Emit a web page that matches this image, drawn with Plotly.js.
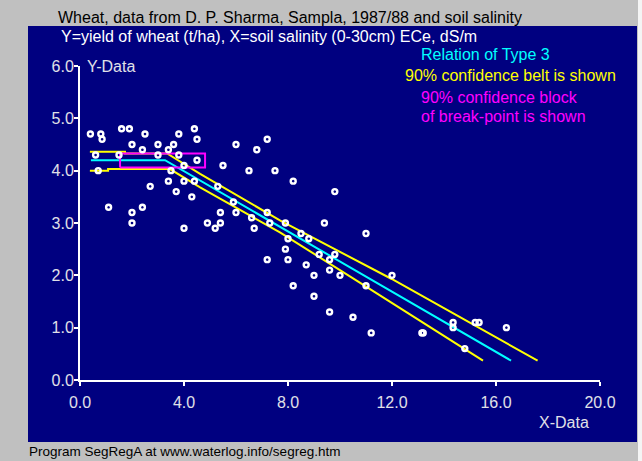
<!DOCTYPE html>
<html><head><meta charset="utf-8">
<script src="https://cdn.plot.ly/plotly-3.0.1.min.js"></script>
<style>html,body{margin:0;padding:0;background:#c0c0c0;}#chart{width:642px;height:461px;}</style>
</head><body><div id="chart"></div>
<script>
// Observed data: soil salinity ECe (dS/m) vs wheat yield (t/ha)
const salinityX = [0.4,0.8,0.85,1.6,1.9,2.5,3.8,4.4,4.5,2.0,3.0,3.6,2.4,3.4,0.6,1.5,3.0,3.8,4.5,4.0,0.7,3.5,3.4,4.0,4.4,2.7,3.7,4.3,1.1,2.0,2.4,2.0,4.0,4.9,5.2,
  6.0,7.2,6.8,5.5,6.5,7.5,8.2,9.8,5.3,5.9,5.4,6.0,7.2,5.4,6.6,7.3,7.9,9.4,6.7,8.5,8.8,8.0,7.9,7.2,8.0,8.7,9.2,9.8,9.6,9.6,10.0,9.0,8.2,9.0,9.6,
  11.0,12.0,10.5,11.2,11.0,13.2,13.15,14.35,14.35,15.2,15.35,14.8,16.4];
const yieldY = [4.7,4.7,4.6,4.8,4.8,4.7,4.7,4.8,4.6,4.5,4.5,4.5,4.4,4.4,4.3,4.3,4.3,4.3,4.2,4.1,4.0,4.0,3.8,3.8,3.8,3.7,3.6,3.5,3.3,3.2,3.3,3.0,2.9,3.0,2.9,
  4.5,4.6,4.4,4.1,4.0,4.0,3.8,3.6,3.7,3.4,3.2,3.2,3.2,3.0,3.1,3.0,3.0,3.0,2.9,2.8,2.7,2.7,2.5,2.3,2.3,2.2,2.4,2.4,2.3,2.1,2.0,2.0,1.8,1.6,1.3,
  2.8,2.0,1.2,0.9,1.8,0.9,0.9,1.1,1.0,1.1,1.1,0.6,1.0];
// Segmented regression (type 3) and 90% confidence belt
const fitX = [0.42, 3.27, 16.58];
const fitY = [4.2, 4.2, 0.37];
const upperX = [0.38, 1.73, 1.73, 3.35, 4.62, 7.69, 11.99, 15.38, 17.6];
const upperY = [4.36, 4.36, 4.33, 4.33, 3.94, 3.05, 1.93, 0.98, 0.37];
const lowerX = [0.38, 1.08, 1.08, 3.46, 4.62, 7.69, 10.64, 15.38, 15.5];
const lowerY = [4.0, 4.0, 4.03, 4.03, 3.68, 2.82, 1.90, 0.41, 0.37];
// 90% confidence block of the break-point
const blockX = [1.54, 4.81];
const blockY = [4.06, 4.33];
// Tick labels
const xTicks = [0, 4, 8, 12, 16, 20];
const yTicks = [0, 1, 2, 3, 4, 5, 6];

const FONT = '"Liberation Sans", Arial, sans-serif';
const L = 80, R = 600, T = 66, B = 380;
const px = v => (v - L) / (R - L);
const py = v => (B - v) / (B - T);

const traces = [
  {x: upperX, y: upperY, mode: 'lines', line: {color: '#ffff00', width: 2}, hoverinfo: 'skip'},
  {x: lowerX, y: lowerY, mode: 'lines', line: {color: '#ffff00', width: 2}, hoverinfo: 'skip'},
  {x: fitX, y: fitY, mode: 'lines', line: {color: '#00ffff', width: 2}, hoverinfo: 'skip'},
  {x: [blockX[0], blockX[1], blockX[1], blockX[0], blockX[0]],
   y: [blockY[0], blockY[0], blockY[1], blockY[1], blockY[0]],
   mode: 'lines', line: {color: '#ff00ff', width: 2}, hoverinfo: 'skip'},
  {x: salinityX, y: yieldY, mode: 'markers',
   marker: {symbol: 'circle-open', size: 5, color: '#ffffff', line: {color: '#ffffff', width: 2.4}}}
];

function note(text, x, y, color, size) {
  return {text: text, xref: 'paper', yref: 'paper', x: px(x), y: py(y), xanchor: 'left', yanchor: 'middle',
          showarrow: false, font: {family: FONT, size: size || 16, color: color}};
}

const layout = {
  width: 642, height: 461,
  margin: {l: L, r: 642 - R, t: T, b: 461 - B, pad: 0},
  paper_bgcolor: '#c0c0c0', plot_bgcolor: 'rgba(0,0,0,0)',
  showlegend: false,
  title: {text: 'Wheat, data from D. P. Sharma, Sampla, 1987/88 and soil salinity',
          xref: 'container', yref: 'container', x: 58 / 642, xanchor: 'left', y: 1 - 17 / 461, yanchor: 'middle',
          font: {family: FONT, size: 16, color: '#000000'}},
  xaxis: {range: [0, 20], tickvals: xTicks, ticktext: xTicks.map(v => v.toFixed(1)),
          showgrid: false, zeroline: false, showline: true, linecolor: '#ffffff', linewidth: 2,
          ticks: 'outside', ticklen: 4, tickwidth: 2, tickcolor: '#ffffff',
          tickfont: {family: FONT, size: 16, color: '#e0e0e8'}, ticklabelstandoff: 3, fixedrange: true},
  yaxis: {range: [0, 6], tickvals: yTicks, ticktext: yTicks.map(v => v.toFixed(1)),
          showgrid: false, zeroline: false, showline: true, linecolor: '#ffffff', linewidth: 2,
          ticks: 'outside', ticklen: 4, tickwidth: 2, tickcolor: '#ffffff',
          tickfont: {family: FONT, size: 16, color: '#e0e0e8'}, ticklabelstandoff: -3, fixedrange: true},
  shapes: [
    {type: 'rect', xref: 'paper', yref: 'paper', x0: px(28), x1: px(637), y0: py(442), y1: py(26),
     fillcolor: '#000080', line: {width: 0}, layer: 'below'},
    {type: 'rect', xref: 'paper', yref: 'paper', x0: px(638), x1: px(643), y0: py(462), y1: py(-1),
     fillcolor: '#f4f4f4', line: {width: 0}, layer: 'below'}
  ],
  annotations: [
    note('Y=yield of wheat (t/ha), X=soil salinity (0-30cm) ECe, dS/m', 59, 36, '#ffffff'),
    note('Relation of Type 3', 419, 55, '#00ffff'),
    note('90% confidence belt is shown', 403, 75, '#ffff00'),
    note('90% confidence block', 419, 97, '#ff00ff'),
    note('of break-point is shown', 419, 117, '#ff00ff'),
    note('Y-Data', 85, 66, '#e0e0e8'),
    note('X-Data', 537, 422, '#e0e0e8'),
    note('Program SegRegA at www.waterlog.info/segreg.htm', 27, 451, '#000000', 13.5)
  ]
};

Plotly.newPlot('chart', traces, layout, {displayModeBar: false, staticPlot: true});
</script></body></html>
